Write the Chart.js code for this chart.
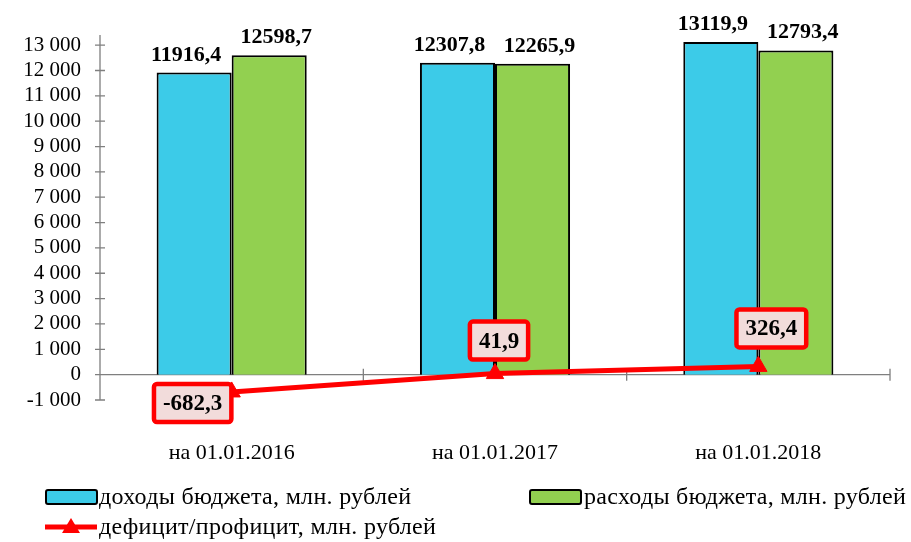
<!DOCTYPE html>
<html>
<head>
<meta charset="utf-8">
<script src="https://cdn.jsdelivr.net/npm/chart.js@4.4.0/dist/chart.umd.min.js"></script>
<style>
  body { margin: 0; background: #fff; }
  #wrap { position: relative; width: 911px; height: 542px; }
  .lg { position: absolute; font: 24px "Liberation Serif", "Times New Roman", serif; letter-spacing: 0.3px; color: #000; white-space: nowrap; line-height: 26px; }
  .sw { position: absolute; width: 49px; height: 12px; border: 2px solid #000; border-radius: 3px; }
</style>
</head>
<body>
<div id="wrap">
  <canvas id="budgetChart" width="911" height="542"></canvas>
  <div class="sw" style="left:45px; top:489px; background:#3ccbe8;"></div>
  <div class="lg" style="left:99px; top:483px;">доходы бюджета, млн. рублей</div>
  <div class="sw" style="left:529px; top:489px; background:#92d050;"></div>
  <div class="lg" style="left:584px; top:483px;">расходы бюджета, млн. рублей</div>
  <canvas id="lineKey" width="56" height="20" style="position:absolute; left:43px; top:517px;"></canvas>
  <div class="lg" style="left:99px; top:513px;">дефицит/профицит, млн. рублей</div>
</div>
<script>
const categories = ["на 01.01.2016", "на 01.01.2017", "на 01.01.2018"];
const incomeValues = [11916.4, 12307.8, 13119.9];
const expenseValues = [12598.7, 12265.9, 12793.4];
const balanceValues = [-682.3, 41.9, 326.4];
const yMin = -1000, yMax = 13400, yTickMax = 13000, yStep = 1000;

function fmtThousands(v) {
  const s = String(Math.abs(v)).replace(/\B(?=(\d{3})+(?!\d))/g, " ");
  return (v < 0 ? "-" : "") + s;
}
function fmtComma(v) {
  return String(v).replace(".", ",");
}

// смещения подписей: столбцы (по x для каждого ряда) и дефицит (x, y)
const barLabelShift = [-8, 7];
const balanceLabelShift = [[-39, 11], [4, -33], [13, -38]];

const axisColor = "#7f7f7f";

// оси рисуем сами: вертикальная с крестообразными засечками, горизонтальная по нулю
const axesPlugin = {
  id: "axesPlugin",
  beforeDatasetsDraw(chart) {
    const c = chart.ctx, y = chart.scales.y, a = chart.chartArea;
    c.save();
    c.strokeStyle = axisColor;
    c.lineWidth = 1.3;
    c.beginPath();
    c.moveTo(a.left, a.top);
    c.lineTo(a.left, a.bottom);
    y.ticks.forEach(t => {
      const py = y.getPixelForValue(t.value);
      c.moveTo(a.left - 5, py);
      c.lineTo(a.left + 5, py);
    });
    const y0 = y.getPixelForValue(0);
    c.moveTo(a.left, y0);
    c.lineTo(a.right, y0);
    const step = (a.right - a.left) / categories.length;
    for (let i = 1; i <= categories.length; i++) {
      const px = a.left + step * i;
      c.moveTo(px, y0 - 6);
      c.lineTo(px, y0 + 6);
    }
    c.stroke();
    c.restore();
  }
};

const labelsPlugin = {
  id: "labelsPlugin",
  afterDatasetsDraw(chart) {
    const c = chart.ctx;
    c.save();
    c.font = "bold 22px 'Liberation Serif', 'Times New Roman', serif";
    c.fillStyle = "#000";
    c.textAlign = "center";
    c.textBaseline = "alphabetic";
    [0, 1].forEach(di => {
      const ds = chart.data.datasets[di];
      chart.getDatasetMeta(di).data.forEach((el, i) => {
        c.fillText(fmtComma(ds.data[i]), el.x + barLabelShift[di], el.y - 12);
      });
    });
    c.font = "bold 23px 'Liberation Serif', 'Times New Roman', serif";
    c.textBaseline = "middle";
    chart.getDatasetMeta(2).data.forEach((el, i) => {
      const txt = fmtComma(balanceValues[i]);
      const w = c.measureText(txt).width + 18;
      const h = 38;
      const cx = el.x + balanceLabelShift[i][0];
      const cy = el.y + balanceLabelShift[i][1];
      c.fillStyle = "#f2dcdb";
      c.strokeStyle = "#ff0000";
      c.lineWidth = 4.5;
      c.beginPath();
      c.roundRect(cx - w / 2, cy - h / 2, w, h, 3);
      c.fill();
      c.stroke();
      c.fillStyle = "#000";
      c.fillText(txt, cx, cy + 1);
    });
    c.restore();
  }
};

const ctx = document.getElementById("budgetChart").getContext("2d");
new Chart(ctx, {
  data: {
    labels: categories,
    datasets: [
      {
        type: "bar",
        label: "доходы бюджета, млн. рублей",
        data: incomeValues,
        backgroundColor: "#3ccbe8",
        borderColor: "#000",
        borderWidth: 2,
        categoryPercentage: 0.57,
        barPercentage: 1,
        order: 2
      },
      {
        type: "bar",
        label: "расходы бюджета, млн. рублей",
        data: expenseValues,
        backgroundColor: "#92d050",
        borderColor: "#000",
        borderWidth: 2,
        categoryPercentage: 0.57,
        barPercentage: 1,
        order: 2
      },
      {
        type: "line",
        label: "дефицит/профицит, млн. рублей",
        data: balanceValues,
        borderColor: "#ff0000",
        backgroundColor: "#ff0000",
        borderWidth: 5,
        pointStyle: "triangle",
        pointRadius: 10,
        pointBorderWidth: 1,
        tension: 0,
        order: 1
      }
    ]
  },
  options: {
    responsive: false,
    animation: false,
    layout: { padding: { top: 35, right: 21, left: 0, bottom: 0 } },
    scales: {
      x: {
        offset: true,
        grid: { display: false, drawTicks: false },
        border: { display: false },
        ticks: {
          color: "#000",
          padding: 40,
          font: { family: "'Liberation Serif', 'Times New Roman', serif", size: 22 }
        },
        afterFit(scale) { scale.height = 142; }
      },
      y: {
        min: yMin,
        max: yMax,
        grid: { display: false, drawTicks: false },
        border: { display: false },
        ticks: {
          autoSkip: false,
          color: "#000",
          padding: 19,
          font: { family: "'Liberation Serif', 'Times New Roman', serif", size: 21 },
          callback: v => fmtThousands(v)
        },
        afterBuildTicks(scale) {
          const t = [];
          for (let v = yMin; v <= yTickMax; v += yStep) t.push({ value: v });
          scale.ticks = t;
        },
        afterFit(scale) { scale.width = 100; }
      }
    },
    plugins: {
      legend: { display: false },
      tooltip: { enabled: false }
    }
  },
  plugins: [axesPlugin, labelsPlugin]
});

// значок линии в легенде
const k = document.getElementById("lineKey").getContext("2d");
k.strokeStyle = "#ff0000";
k.lineWidth = 5;
k.beginPath(); k.moveTo(2, 10); k.lineTo(54, 10); k.stroke();
k.fillStyle = "#ff0000";
k.beginPath(); k.moveTo(28, 1); k.lineTo(37, 16); k.lineTo(19, 16); k.closePath(); k.fill();
</script>
</body>
</html>
